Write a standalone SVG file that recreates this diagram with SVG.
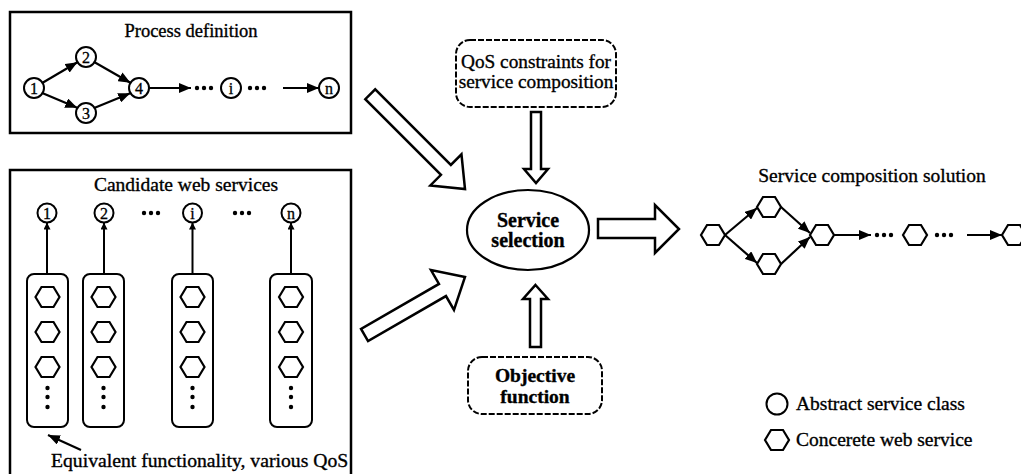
<svg xmlns="http://www.w3.org/2000/svg" width="1021" height="474" viewBox="0 0 1021 474">
  <style>
    .t { font-family: "Liberation Serif", "Times New Roman", serif; font-size: 19.5px; fill: #000; stroke: #000; stroke-width: 0.35; }
    .num { font-family: "Liberation Serif", "Times New Roman", serif; font-size: 16px; fill: #000; stroke: #000; stroke-width: 0.3; text-anchor: middle; }
    .b { font-weight: bold; }
    .mid { text-anchor: middle; }
    .frame { fill: none; stroke: #000; stroke-width: 2.5; }
    .dash { fill: #fff; stroke: #000; stroke-width: 2; stroke-dasharray: 6 2; }
    .hollow { fill: #fff; stroke: #000; stroke-width: 2.5; stroke-linejoin: miter; }
    .circ { fill: #fff; stroke: #000; stroke-width: 2; }
    .col { fill: #fff; stroke: #000; stroke-width: 2; }
    .edge { fill: none; stroke: #000; stroke-width: 2.2; marker-end: url(#ah); }
    .up { fill: none; stroke: #000; stroke-width: 2; marker-end: url(#ahs); }
    .hex { fill: #fff; stroke: #000; stroke-width: 2.2; stroke-linejoin: miter; }
    .dot { fill: #000; }
  </style>
  <defs>
    <marker id="ah" markerUnits="userSpaceOnUse" markerWidth="12" markerHeight="10" viewBox="0 0 12 10" refX="12" refY="5" orient="auto">
      <path d="M0,0 L12,5 L0,10 Z" fill="#000"/>
    </marker>
    <marker id="ahs" markerUnits="userSpaceOnUse" markerWidth="7" markerHeight="7" viewBox="0 0 7 7" refX="7" refY="3.5" orient="auto">
      <path d="M0,0 L7,3.5 L0,7 Z" fill="#000"/>
    </marker>
    <polygon id="hx" class="hex" points="-12,0 -6,-10 6,-10 12,0 6,10 -6,10"/>
    <g id="vdots">
      <circle class="dot" cx="0" cy="0" r="2.2"/>
      <circle class="dot" cx="0" cy="9" r="2.2"/>
      <circle class="dot" cx="0" cy="19" r="2.2"/>
    </g>
    <g id="hdots">
      <circle class="dot" cx="0" cy="0" r="2.2"/>
      <circle class="dot" cx="7" cy="0" r="2.2"/>
      <circle class="dot" cx="14" cy="0" r="2.2"/>
    </g>
  </defs>

  <!-- Process definition panel -->
  <g id="process-definition">
    <rect class="frame" x="10" y="12" width="341" height="121"/>
    <text class="t mid" x="191" y="37" style="font-size:18.5px">Process definition</text>
    <g id="pd-edges">
      <line class="edge" x1="42.6" y1="82.8" x2="77.4" y2="62.2"/>
      <line class="edge" x1="42.8" y1="93.2" x2="77.2" y2="107.8"/>
      <line class="edge" x1="94.6" y1="62.2" x2="130.4" y2="82.8"/>
      <line class="edge" x1="94.8" y1="107.8" x2="130.2" y2="93.2"/>
      <line class="edge" x1="149" y1="88" x2="191" y2="88"/>
      <line class="edge" x1="283" y1="88" x2="319" y2="88"/>
    </g>
    <use href="#hdots" x="197" y="88"/>
    <use href="#hdots" x="250" y="88"/>
    <g id="pd-n1"><circle class="circ" cx="34" cy="88" r="10"/><text class="num" x="34" y="93.5">1</text></g>
    <g id="pd-n2"><circle class="circ" cx="86" cy="57" r="10"/><text class="num" x="86" y="62.5">2</text></g>
    <g id="pd-n3"><circle class="circ" cx="86" cy="113" r="10"/><text class="num" x="86" y="118.5">3</text></g>
    <g id="pd-n4"><circle class="circ" cx="139" cy="88" r="10"/><text class="num" x="139" y="93.5">4</text></g>
    <g id="pd-ni"><circle class="circ" cx="231" cy="88" r="10"/><text class="num" x="231" y="93.5">i</text></g>
    <g id="pd-nn"><circle class="circ" cx="329" cy="88" r="10"/><text class="num" x="329" y="93.5">n</text></g>
  </g>

  <!-- Candidate web services panel -->
  <g id="candidate-services">
    <path class="frame" d="M10,476 V170 H351 V476"/>
    <text class="t mid" x="186" y="191">Candidate web services</text>
    <g id="cand-arrows">
      <line class="up" x1="47" y1="274" x2="47" y2="222.5"/>
      <line class="up" x1="104" y1="274" x2="104" y2="222.5"/>
      <line class="up" x1="192.5" y1="274" x2="192.5" y2="222.5"/>
      <line class="up" x1="291" y1="274" x2="291" y2="222.5"/>
    </g>
    <use href="#hdots" x="144" y="213"/>
    <use href="#hdots" x="235" y="213"/>
    <g id="cand-c1"><circle class="circ" cx="47" cy="213" r="9.5"/><text class="num" x="47" y="218.5">1</text></g>
    <g id="cand-c2"><circle class="circ" cx="104" cy="213" r="9.5"/><text class="num" x="104" y="218.5">2</text></g>
    <g id="cand-ci"><circle class="circ" cx="192.5" cy="213" r="9.5"/><text class="num" x="192.5" y="218.5">i</text></g>
    <g id="cand-cn"><circle class="circ" cx="291" cy="213" r="9.5"/><text class="num" x="291" y="218.5">n</text></g>

    <g id="col-1">
      <rect class="col" x="27" y="274" width="41" height="153" rx="7"/>
      <use href="#hx" x="47.5" y="297"/><use href="#hx" x="47.5" y="332"/><use href="#hx" x="47.5" y="367"/>
      <use href="#vdots" x="47.5" y="388"/>
    </g>
    <g id="col-2">
      <rect class="col" x="83" y="274" width="41" height="153" rx="7"/>
      <use href="#hx" x="103.5" y="297"/><use href="#hx" x="103.5" y="332"/><use href="#hx" x="103.5" y="367"/>
      <use href="#vdots" x="103.5" y="388"/>
    </g>
    <g id="col-i">
      <rect class="col" x="172" y="274" width="41" height="153" rx="7"/>
      <use href="#hx" x="192.5" y="297"/><use href="#hx" x="192.5" y="332"/><use href="#hx" x="192.5" y="367"/>
      <use href="#vdots" x="192.5" y="388"/>
    </g>
    <g id="col-n">
      <rect class="col" x="270" y="274" width="42" height="153" rx="7"/>
      <use href="#hx" x="291" y="297"/><use href="#hx" x="291" y="332"/><use href="#hx" x="291" y="367"/>
      <use href="#vdots" x="291" y="388"/>
    </g>
    <line class="edge" x1="81" y1="450" x2="48" y2="435"/>
    <text class="t" x="51" y="467" style="font-size:19.7px">Equivalent functionality, various QoS</text>
  </g>

  <!-- Block arrows into and out of the selection step -->
  <g id="connectors">
    <polygon class="hollow" transform="translate(465,189) rotate(45)" points="0,0 -27,-22 -27,-7 -134,-7 -134,7 -27,7 -27,22"/>
    <polygon class="hollow" transform="translate(465,277) rotate(-30)" points="0,0 -26,-23 -26,-7 -116,-7 -116,7 -26,7 -26,23"/>
    <polygon class="hollow" points="531,112 541,112 541,169 548,169 536,183 524,169 531,169"/>
    <polygon class="hollow" points="535.5,285 548,299 541,299 541,347 530,347 530,299 523,299"/>
    <polygon class="hollow" points="598,219 655,219 655,205 679,229 655,253 655,238 598,238"/>
  </g>

  <g id="qos-constraints">
    <rect class="dash" x="456" y="40" width="160" height="67" rx="14"/>
    <text class="t mid" x="536" y="68" style="font-size:19.3px">QoS constraints for</text>
    <text class="t mid" x="536" y="88" style="font-size:19.3px">service composition</text>
  </g>

  <g id="service-selection">
    <ellipse cx="528" cy="230" rx="61" ry="40" fill="#fff" stroke="#000" stroke-width="2.2"/>
    <text class="t b mid" x="528" y="227" style="font-size:20px">Service</text>
    <text class="t b mid" x="528" y="247" style="font-size:20px">selection</text>
  </g>

  <g id="objective-function">
    <rect class="dash" x="468" y="357" width="134" height="57" rx="14"/>
    <text class="t b mid" x="535" y="382">Objective</text>
    <text class="t b mid" x="535" y="403">function</text>
  </g>

  <!-- Resulting composition -->
  <g id="composition-solution">
    <text class="t mid" x="872" y="182">Service composition solution</text>
    <g id="sol-edges">
      <line class="edge" x1="725" y1="235" x2="757" y2="208"/>
      <line class="edge" x1="725" y1="235" x2="757" y2="263"/>
      <line class="edge" x1="781" y1="207" x2="810" y2="233"/>
      <line class="edge" x1="781" y1="264" x2="810" y2="237"/>
      <line class="edge" x1="834" y1="235" x2="871" y2="235"/>
      <line class="edge" x1="967" y1="235" x2="1002" y2="235"/>
    </g>
    <use href="#hdots" x="877" y="235"/>
    <use href="#hdots" x="937" y="235"/>
    <use href="#hx" x="713" y="235"/>
    <use href="#hx" x="769" y="207"/>
    <use href="#hx" x="769" y="264"/>
    <use href="#hx" x="822" y="235"/>
    <use href="#hx" x="915" y="235"/>
    <use href="#hx" x="1014" y="235"/>
  </g>

  <g id="legend">
    <circle class="circ" cx="777" cy="404" r="10.5"/>
    <text class="t" x="796" y="410">Abstract service class</text>
    <use href="#hx" x="777" y="440"/>
    <text class="t" x="796" y="446">Concerete web service</text>
  </g>
</svg>
